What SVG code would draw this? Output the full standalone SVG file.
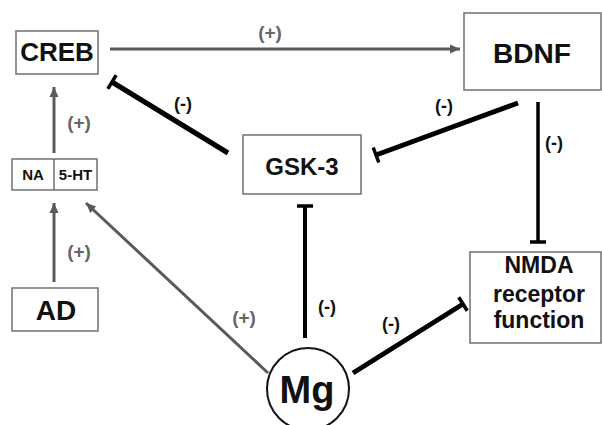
<svg xmlns="http://www.w3.org/2000/svg" width="602" height="425" viewBox="0 0 602 425">
<style>
.box{fill:#fff;stroke:#707070;stroke-width:1.5}
.t{font-family:"Liberation Sans",Arial,sans-serif;font-weight:bold;fill:#111;text-anchor:middle}
.act{stroke:#5a5a5a;stroke-width:3;fill:none;marker-end:url(#arr)}
.inh{stroke:#000;stroke-width:5;fill:none;marker-end:url(#bar)}
.lp{font-family:"Liberation Sans",Arial,sans-serif;font-weight:bold;font-size:19px;fill:#666;text-anchor:middle}
.lm{font-family:"Liberation Sans",Arial,sans-serif;font-weight:bold;font-size:18px;fill:#111;text-anchor:middle}
</style>
<defs>
<marker id="arr" markerUnits="userSpaceOnUse" markerWidth="12" markerHeight="12" viewBox="-10 -6 12 12" refX="0" refY="0" orient="auto">
<path d="M-10,-4.5 L0,0 L-10,4.5 Z" fill="#5a5a5a"/>
</marker>
<marker id="bar" markerUnits="userSpaceOnUse" markerWidth="10" markerHeight="22" viewBox="-5 -11 10 22" refX="0" refY="0" orient="auto">
<path d="M0,-8 L0,8" stroke="#000" stroke-width="3.5"/>
</marker>
</defs>
<rect width="602" height="425" fill="#fff"/>
<g id="connectors">
<line class="act" x1="110" y1="49" x2="460" y2="49"/>
<line class="act" x1="54" y1="153" x2="54" y2="87"/>
<line class="act" x1="54" y1="282" x2="54" y2="203"/>
<line class="act" x1="268" y1="373" x2="86" y2="203"/>
<line class="inh" x1="228" y1="153" x2="112" y2="82"/>
<line class="inh" x1="518" y1="103" x2="376" y2="155"/>
<line class="inh" x1="538" y1="102" x2="538" y2="242" style="stroke-width:3.5"/>
<line class="inh" x1="305" y1="338" x2="305" y2="206" style="stroke-width:4"/>
<line class="inh" x1="353" y1="373" x2="463" y2="304"/>
<text class="lp" x="270" y="39">(+)</text>
<text class="lp" x="79" y="129">(+)</text>
<text class="lp" x="79" y="258">(+)</text>
<text class="lp" x="244" y="324">(+)</text>
<text class="lm" x="183" y="110">(-)</text>
<text class="lm" x="444" y="112">(-)</text>
<text class="lm" x="554" y="149">(-)</text>
<text class="lm" x="327" y="313">(-)</text>
<text class="lm" x="391" y="330">(-)</text>
</g>
<g id="creb">
<rect class="box" x="16" y="31" width="82" height="43"/>
<text class="t" x="57" y="61" font-size="26">CREB</text>
</g>
<g id="bdnf">
<rect class="box" x="464" y="13" width="137" height="77"/>
<text class="t" x="532" y="63" font-size="28">BDNF</text>
</g>
<g id="na5ht">
<rect class="box" x="12" y="159" width="85" height="31"/>
<line x1="54" y1="159" x2="54" y2="190" stroke="#707070" stroke-width="1.5"/>
<text class="t" x="33" y="180" font-size="15">NA</text>
<text class="t" x="75.5" y="180" font-size="15">5-HT</text>
</g>
<g id="ad">
<rect class="box" x="12" y="288" width="86" height="43"/>
<text class="t" x="56" y="320" font-size="28">AD</text>
</g>
<g id="gsk3">
<rect class="box" x="243" y="135" width="118" height="59"/>
<text class="t" x="302" y="175" font-size="24">GSK-3</text>
</g>
<g id="nmda">
<rect class="box" x="470" y="252" width="131" height="91"/>
<text class="t" x="539" y="273" font-size="23">NMDA</text>
<text class="t" x="539" y="302" font-size="23">receptor</text>
<text class="t" x="539" y="328" font-size="23">function</text>
</g>
<g id="mg">
<circle cx="308" cy="389" r="41" fill="#fff" stroke="#111" stroke-width="2"/>
<text class="t" x="307" y="403" font-size="38">Mg</text>
</g>
</svg>
